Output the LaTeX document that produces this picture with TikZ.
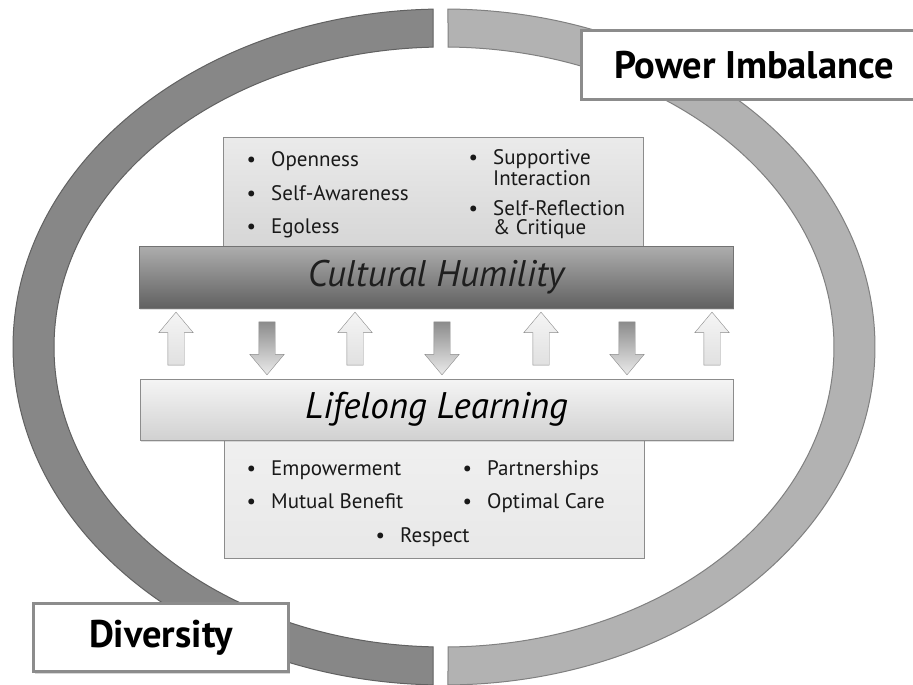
\documentclass[tikz,border=0pt]{standalone}
\usepackage{fontspec}
\setmainfont{PT Sans}
\usetikzlibrary{shapes.arrows, shadows, calc}
\newcommand\itembul{\llap{\textbullet\hspace{15pt}}}

\begin{document}
\begin{tikzpicture}[x=1pt, y=-1pt]

\tikzset{ring/.style = {line width=1pt}}
\tikzset{listbox/.style = {draw=black!45, line width=1pt, top color=black!8, bottom color=black!16}}
\tikzset{bar/.style = {draw=black!55, line width=1pt, font=\itshape\fontsize{37}{40}\selectfont, drop shadow={opacity=.25, shadow xshift=1pt, shadow yshift=-1.5pt}}}
\tikzset{tagbox/.style = {draw=black!45, line width=3pt, fill=white, font=\bfseries\fontsize{38.5}{42}\selectfont, drop shadow={opacity=.3, shadow xshift=1pt, shadow yshift=-2pt}}}
\tikzset{uparr/.style = {single arrow, shape border rotate=90, draw=black!45, top color=black!4, bottom color=black!12, minimum width=34pt, minimum height=53pt, single arrow head extend=9pt, single arrow tip angle=80, inner sep=8pt}}
\tikzset{dnarr/.style = {uparr, shape border rotate=270, top color=black!45, bottom color=black!8}}
\tikzset{item/.style = {anchor=base west, inner sep=0pt, align=left, text=black!90, font=\fontsize{21}{19}\selectfont}}

\useasboundingbox (0,0) rectangle (913,685);
\fill[white] (0,0) rectangle (913,685);

%ring
\coordinate (c) at (444,347);
\filldraw[ring, fill=black!47, draw=black!62] ($(c)+(91.46:431pt and 338pt)$)
  arc[start angle=91.46, end angle=268.54, x radius=431pt, y radius=338pt]
  -- ($(c)+(268.4:390pt and 300pt)$)
  arc[start angle=268.4, end angle=91.6, x radius=390pt, y radius=300pt] -- cycle;
\filldraw[ring, fill=black!30, draw=black!50] ($(c)+(89.47:431pt and 338pt)$)
  arc[start angle=89.47, end angle=-89.47, x radius=431pt, y radius=338pt]
  -- ($(c)+(-89.41:390pt and 300pt)$)
  arc[start angle=-89.41, end angle=89.41, x radius=390pt, y radius=300pt] -- cycle;

%lists
\node[listbox, minimum width=420pt, minimum height=109pt] (tb) at (433,191.5) {};
\node[listbox, top color=black!6, bottom color=black!9, minimum width=420pt, minimum height=118pt] (bb) at (434,499) {};

\node[item] (o) at (271,166) {\itembul Openness};
\node[item] (sa) at (271,200) {\itembul Self-Awareness};
\node[item] (eg) at (271,233) {\itembul Egoless};
\node[item] (su) at (493,185) {\itembul Supportive\\Interaction};
\node[item] (sr) at (493,234) {\itembul Self-Reflection\\\& Critique};

\node[item] (em) at (271,475) {\itembul Empowerment};
\node[item] (mb) at (271,508) {\itembul Mutual Benefit};
\node[item] (pa) at (487,475) {\itembul Partnerships};
\node[item] (oc) at (487,508) {\itembul Optimal Care};
\node[item] (re) at (400,542) {\itembul Respect};

%bars
\node[bar, top color=black!32, bottom color=black!62, text=black!88, minimum width=594pt, minimum height=62pt] (ch) at (436,277) {Cultural Humility};
\node[bar, draw=black!45, top color=black!4, bottom color=black!18, minimum width=593pt, minimum height=61pt] (ll) at (436.5,409.5) {Lifelong Learning};

%arrows
\foreach \x [count=\i] in {176,355,541,712}
  \node[uparr] (u\i) at (\x,343.5) {};
\foreach \x [count=\i] in {267,442,627}
  \node[dnarr] (d\i) at (\x,343.5) {};

%tags
\node[tagbox, minimum width=345pt, minimum height=68pt] (pi) at (754,65) {Power Imbalance};
\node[tagbox, minimum width=255pt, minimum height=68pt] (dv) at (161,637.5) {Diversity};

\end{tikzpicture}
\end{document}
